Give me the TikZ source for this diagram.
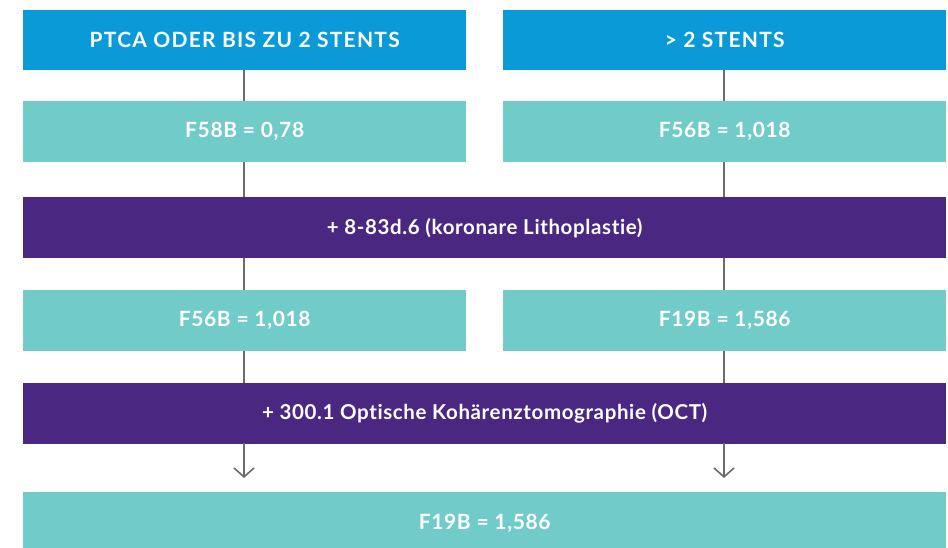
\documentclass[tikz,border=0pt]{standalone}
\usepackage{fontspec}
\setmainfont{Lato}
\newfontfamily\hdfont[LetterSpace=6]{Lato Bold}
\newfontfamily\bxfont[LetterSpace=3]{Lato Bold}
\newfontfamily\pufont[LetterSpace=3,Ligatures=NoCommon]{Lato Bold}
\usetikzlibrary{arrows.meta}
\definecolor{hblue}{HTML}{0A9AD7}
\definecolor{hteal}{HTML}{71CBC9}
\definecolor{hpurple}{HTML}{4A2882}
\definecolor{hline}{HTML}{6B6B6B}
\tikzset{
  box/.style={rectangle, inner sep=0pt, anchor=north west, text=white, align=center},
  hdbox/.style={box, fill=hblue, font=\hdfont\fontsize{21}{24}\selectfont},
  tlbox/.style={box, fill=hteal, font=\bxfont\fontsize{21}{24}\selectfont},
  pubox/.style={box, fill=hpurple, font=\pufont\fontsize{20.5}{24}\selectfont},
  conn/.style={draw=hline, line width=1.8pt},
  arr/.style={conn, -{Straight Barb[length=9pt,width=20pt,line width=1.6pt]}},
}
\begin{document}
\begin{tikzpicture}[x=1pt,y=-1pt]
\useasboundingbox (0,0) rectangle (948,547);
\clip (0,0) rectangle (948,547);
\node[hdbox, minimum width=443pt, minimum height=60pt] (h1) at (23,10) {PTCA ODER BIS ZU 2 STENTS};
\node[hdbox, minimum width=443pt, minimum height=60pt] (h2) at (503,10) {> 2 STENTS};
\node[tlbox, minimum width=443pt, minimum height=61pt] (a1) at (23,101) {F58B = 0,78};
\node[tlbox, minimum width=443pt, minimum height=61pt] (a2) at (503,101) {F56B = 1,018};
\node[pubox, minimum width=923pt, minimum height=61pt] (p1) at (23,197) {+ 8-83d.6 (koronare Lithoplastie)};
\node[tlbox, minimum width=443pt, minimum height=61pt] (b1) at (23,290) {F56B = 1,018};
\node[tlbox, minimum width=443pt, minimum height=61pt] (b2) at (503,290) {F19B = 1,586};
\node[pubox, minimum width=923pt, minimum height=61pt] (p2) at (23,383) {+ 300.1 Optische Kohärenztomographie (OCT)};
\node[tlbox, minimum width=923pt, minimum height=62pt] (c) at (23,492) {F19B = 1,586};
\coordinate (p1l) at (244,197);
\coordinate (p1r) at (724,197);
\coordinate (p1lb) at (244,258);
\coordinate (p1rb) at (724,258);
\coordinate (p2l) at (244,383);
\coordinate (p2r) at (724,383);
\coordinate (p2lb) at (244,443);
\coordinate (p2rb) at (724,443);
\coordinate (el) at (244,478);
\coordinate (er) at (724,478);
\draw[conn] (h1.south -| p1l) -- (a1.north -| p1l);
\draw[conn] (h2.south -| p1r) -- (a2.north -| p1r);
\draw[conn] (a1.south -| p1l) -- (p1l);
\draw[conn] (a2.south -| p1r) -- (p1r);
\draw[conn] (p1lb) -- (b1.north -| p1l);
\draw[conn] (p1rb) -- (b2.north -| p1r);
\draw[conn] (b1.south -| p1l) -- (p2l);
\draw[conn] (b2.south -| p1r) -- (p2r);
\draw[arr] (p2lb) -- (el);
\draw[arr] (p2rb) -- (er);
\end{tikzpicture}
\end{document}
